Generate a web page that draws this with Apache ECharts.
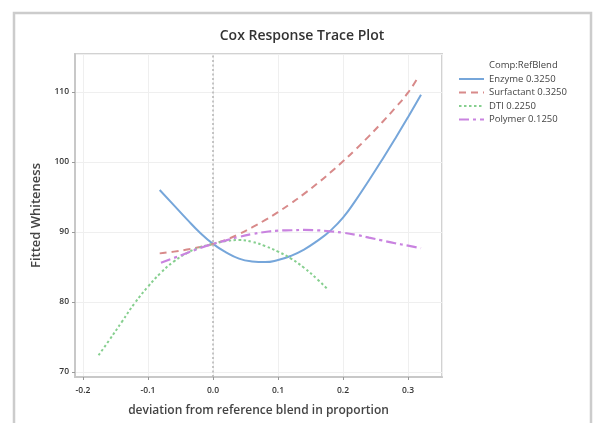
<!DOCTYPE html>
<html>
<head>
<meta charset="utf-8">
<title>Cox Response Trace Plot</title>
<script src="https://cdn.jsdelivr.net/npm/echarts@6/dist/echarts.min.js"></script>
<style>
  html, body { margin: 0; padding: 0; background: #fff; }
  #chart { width: 593px; height: 423px; }
</style>
</head>
<body>
<div id="chart"></div>
<script>
// values
var enzymeX = [-0.082, -0.06, -0.04, -0.02, 0, 0.02, 0.04, 0.06, 0.08, 0.10, 0.12, 0.14, 0.16, 0.18, 0.20, 0.22, 0.24, 0.26, 0.28, 0.30, 0.32]
var enzymeY = [96.0, 93.8, 91.8, 89.9, 88.3, 87.1, 86.2, 85.8, 85.7, 86.0, 86.6, 87.5, 88.7, 90.15, 92.05, 94.6, 97.4, 100.3, 103.3, 106.4, 109.6]

var surfX = [-0.082, -0.06, -0.04, -0.02, 0, 0.02, 0.04, 0.06, 0.08, 0.10, 0.12, 0.14, 0.16, 0.18, 0.20, 0.22, 0.24, 0.26, 0.28, 0.30, 0.316]
var surfY = [86.95, 87.2, 87.5, 87.85, 88.3, 88.9, 89.7, 90.65, 91.7, 92.85, 94.1, 95.45, 96.9, 98.45, 100.1, 101.85, 103.7, 105.65, 107.7, 109.9, 112.2]

var dtiX = [-0.176, -0.16, -0.14, -0.12, -0.10, -0.08, -0.06, -0.04, -0.02, 0, 0.02, 0.04, 0.06, 0.08, 0.10, 0.12, 0.14, 0.16, 0.175]
var dtiY = [72.4, 74.5, 77.2, 79.9, 82.2, 84.2, 85.8, 87.0, 87.8, 88.3, 88.7, 88.85, 88.6, 88.0, 87.2, 86.2, 84.9, 83.3, 81.95]

var polyX = [-0.08, -0.06, -0.04, -0.02, 0, 0.02, 0.04, 0.06, 0.08, 0.10, 0.12, 0.14, 0.16, 0.18, 0.20, 0.22, 0.24, 0.26, 0.28, 0.30, 0.32]
var polyY = [85.6, 86.3, 87.0, 87.7, 88.3, 88.8, 89.3, 89.7, 90.0, 90.2, 90.25, 90.3, 90.25, 90.1, 89.9, 89.6, 89.2, 88.8, 88.4, 88.05, 87.7]

var seriesNames = ['Enzyme 0.3250', 'Surfactant 0.3250', 'DTI 0.2250', 'Polymer 0.1250']
var refLine = [0]

function pairs(xs, ys) {
  return xs.map(function (x, i) { return [x, ys[i]] })
}

var chart = echarts.init(document.getElementById('chart'))
var font = '"Open Sans", "Noto Sans", sans-serif'

chart.setOption({
  animation: false,
  textStyle: { fontFamily: font },
  title: [{
    text: 'Cox Response Trace Plot',
    left: 302,
    top: 29,
    padding: 0,
    textAlign: 'center',
    textStyle: { fontSize: 14, fontWeight: 600, color: '#333', fontFamily: font }
  }, {
    text: 'Comp:RefBlend',
    left: 489,
    top: 60,
    padding: 0,
    textStyle: { fontSize: 9.5, fontWeight: 'normal', color: '#444', fontFamily: font }
  }],
  graphic: [{
    type: 'rect',
    shape: { x: 14, y: 13, width: 577, height: 430 },
    style: { fill: 'none', stroke: '#cccccc', lineWidth: 2.5 },
    silent: true
  }],
  legend: {
    orient: 'vertical',
    left: 458,
    top: 74,
    padding: 0,
    itemWidth: 25,
    itemHeight: 10,
    itemGap: 3.5,
    itemStyle: { opacity: 0 },
    textStyle: { fontSize: 9.5, color: '#444', fontFamily: font },
    data: seriesNames
  },
  grid: {
    left: 75,
    top: 54,
    right: 151,
    bottom: 46,
    show: true,
    borderColor: '#d2d2d2',
    borderWidth: 2
  },
  xAxis: {
    type: 'value',
    min: -0.2123,
    max: 0.3523,
    name: 'deviation from reference blend in proportion',
    nameLocation: 'middle',
    nameGap: 28,
    nameTextStyle: { fontSize: 12, fontWeight: 600, color: '#444', fontFamily: font },
    axisLine: { show: true, onZero: false, lineStyle: { color: '#c8c8c8', width: 2 } },
    axisTick: { show: true, length: 3, lineStyle: { color: '#999' } },
    axisLabel: {
      fontSize: 8.5, fontWeight: 600, color: '#333', margin: 9,
      showMinLabel: false, showMaxLabel: false,
      formatter: function (v) { return v.toFixed(1) }
    },
    splitLine: { show: true, lineStyle: { color: '#efefef', width: 1 } }
  },
  yAxis: {
    type: 'value',
    min: 69.29,
    max: 115.43,
    name: 'Fitted Whiteness',
    nameLocation: 'middle',
    nameGap: 32,
    nameTextStyle: { fontSize: 13, fontWeight: 600, color: '#444', fontFamily: font },
    axisLine: { show: true, onZero: false, lineStyle: { color: '#c8c8c8', width: 2 } },
    axisTick: { show: true, length: 3, lineStyle: { color: '#999' } },
    axisLabel: { fontSize: 8.5, fontWeight: 600, color: '#333', margin: 6, showMinLabel: false, showMaxLabel: false },
    splitLine: { show: true, lineStyle: { color: '#efefef', width: 1 } }
  },
  series: [{
    name: seriesNames[0],
    type: 'line',
    smooth: true,
    symbol: 'none',
    color: '#76a6da',
    lineStyle: { width: 2, color: '#76a6da', type: 'solid' },
    data: pairs(enzymeX, enzymeY),
    markLine: {
      silent: true,
      symbol: 'none',
      label: { show: false },
      lineStyle: { color: '#b4b4b4', width: 1.5, type: [2, 2.5] },
      data: refLine.map(function (v) { return { xAxis: v } })
    },
    z: 3
  }, {
    name: seriesNames[1],
    type: 'line',
    smooth: true,
    symbol: 'none',
    color: '#d88a8a',
    lineStyle: { width: 2, color: '#d88a8a', type: [7, 5] },
    data: pairs(surfX, surfY),
    z: 3
  }, {
    name: seriesNames[2],
    type: 'line',
    smooth: true,
    symbol: 'none',
    color: '#86cf8f',
    lineStyle: { width: 2, color: '#86cf8f', type: [2.5, 2.5] },
    data: pairs(dtiX, dtiY),
    z: 3
  }, {
    name: seriesNames[3],
    type: 'line',
    smooth: true,
    symbol: 'none',
    color: '#c983e0',
    lineStyle: { width: 2.2, color: '#c983e0', type: [10, 4, 3, 4] },
    data: pairs(polyX, polyY),
    z: 3
  }]
})
</script>
</body>
</html>
